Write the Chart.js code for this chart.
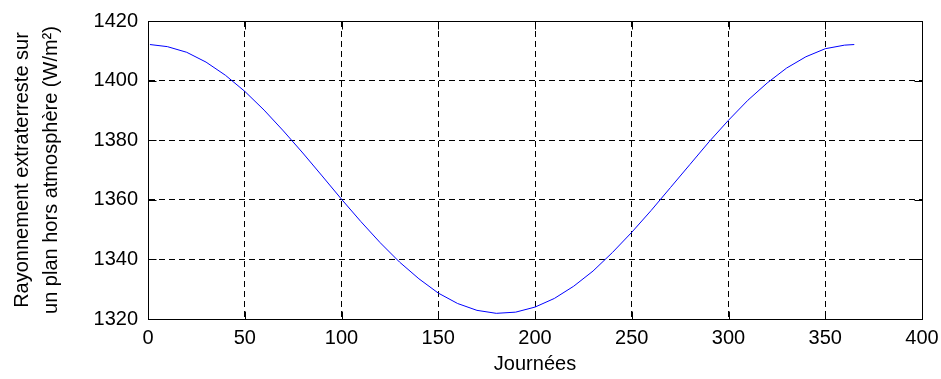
<!DOCTYPE html>
<html>
<head>
<meta charset="utf-8">
<script src="https://cdn.jsdelivr.net/npm/chart.js@4.4.1/dist/chart.umd.min.js"></script>
<style>
  html, body { margin: 0; padding: 0; background: #fff; }
  #wrap { width: 941px; height: 379px; }
</style>
</head>
<body>
<div id="wrap"><canvas id="irrChart"></canvas></div>
<script>
// Day of the year
const days = [1, 10, 20, 30, 40, 50, 60, 70, 80, 90, 100, 110, 120, 130, 140, 150, 160, 170, 180,
              190, 200, 210, 220, 230, 240, 250, 260, 270, 280, 290, 300, 310, 320, 330, 340, 350, 360, 365];
// Extraterrestrial irradiance on a horizontal plane (W/m2)
const irradiance = [1412.1, 1411.4, 1409.5, 1406.2, 1401.8, 1396.4, 1390.1, 1383.1, 1375.7, 1368.0,
                    1360.2, 1352.7, 1345.6, 1339.1, 1333.5, 1328.7, 1325.2, 1322.9, 1321.9, 1322.3,
                    1324.0, 1326.9, 1331.0, 1336.1, 1342.3, 1349.1, 1356.4, 1364.1, 1371.8, 1379.5,
                    1386.7, 1393.4, 1399.2, 1404.2, 1408.0, 1410.7, 1411.9, 1412.1];

const xTicks = [0, 50, 100, 150, 200, 250, 300, 350, 400];
const yTicks = [1320, 1340, 1360, 1380, 1400, 1420];

const FONT = '"Liberation Sans", Arial, sans-serif';

// box around the plot + ticks pointing inwards
const frameAndTicks = {
  id: 'frameAndTicks',
  afterDraw(chart) {
    const { ctx, chartArea: a, scales: { x, y } } = chart;
    const L = Math.round(a.left) + 0.5, R = Math.round(a.right) + 0.5;
    const T = Math.round(a.top) + 0.5, B = Math.round(a.bottom) + 0.5;
    const len = 8;
    ctx.save();
    ctx.strokeStyle = '#000';
    ctx.lineWidth = 1;
    ctx.beginPath();
    ctx.rect(L, T, R - L, B - T);
    xTicks.forEach(v => {
      const px = Math.round(x.getPixelForValue(v)) + 0.5;
      ctx.moveTo(px, B); ctx.lineTo(px, B - len);
      ctx.moveTo(px, T); ctx.lineTo(px, T + len);
    });
    yTicks.forEach(v => {
      const py = Math.round(y.getPixelForValue(v)) + 0.5;
      ctx.moveTo(L, py); ctx.lineTo(L + len, py);
      ctx.moveTo(R, py); ctx.lineTo(R - len, py);
    });
    ctx.stroke();
    ctx.restore();
  }
};

const ctx = document.getElementById('irrChart').getContext('2d');
const irrChart = new Chart(ctx, {
  type: 'line',
  data: {
    datasets: [{
      data: days.map((d, i) => ({ x: d, y: irradiance[i] })),
      borderColor: '#0000ff',
      borderWidth: 1,
      pointRadius: 0,
      tension: 0,
      fill: false
    }]
  },
  options: {
    responsive: true,
    maintainAspectRatio: false,
    animation: false,
    devicePixelRatio: 1,
    layout: { padding: { top: 21, right: 19, left: 0, bottom: 0 } },
    plugins: { legend: { display: false }, tooltip: { enabled: false } },
    scales: {
      x: {
        type: 'linear',
        min: 0,
        max: 400,
        afterFit(scale) {
          scale.height = 60;
          scale.paddingLeft = 0;
          scale.paddingRight = 0;
        },
        afterBuildTicks(scale) { scale.ticks = xTicks.map(v => ({ value: v })); },
        grid: { color: '#000', lineWidth: 1, drawTicks: false },
        border: { display: true, color: '#000', width: 1, dash: [6, 4] },
        ticks: {
          color: '#000', padding: 7, maxRotation: 0,
          font: { family: FONT, size: 20 },
          callback: v => String(v)
        },
        title: {
          display: true,
          text: 'Journées',
          color: '#000',
          font: { family: FONT, size: 20, lineHeight: 1.2 },
          padding: { top: 0, bottom: 3 }
        }
      },
      y: {
        type: 'linear',
        min: 1320,
        max: 1420,
        afterFit(scale) {
          scale.width = 148;
          scale.paddingTop = 0;
          scale.paddingBottom = 0;
        },
        afterBuildTicks(scale) { scale.ticks = yTicks.map(v => ({ value: v })); },
        grid: { color: '#000', lineWidth: 1, drawTicks: false },
        border: { display: true, color: '#000', width: 1, dash: [6, 4] },
        ticks: {
          color: '#000', padding: 10,
          font: { family: FONT, size: 20 },
          callback: v => String(v)
        },
        title: {
          display: true,
          text: ['Rayonnement extraterreste sur', 'un plan hors atmosphère (W/m²)'],
          color: '#000',
          font: { family: FONT, size: 20, lineHeight: 1.45 },
          padding: { top: 8, bottom: 0 }
        }
      }
    }
  },
  plugins: [frameAndTicks]
});
</script>
</body>
</html>
